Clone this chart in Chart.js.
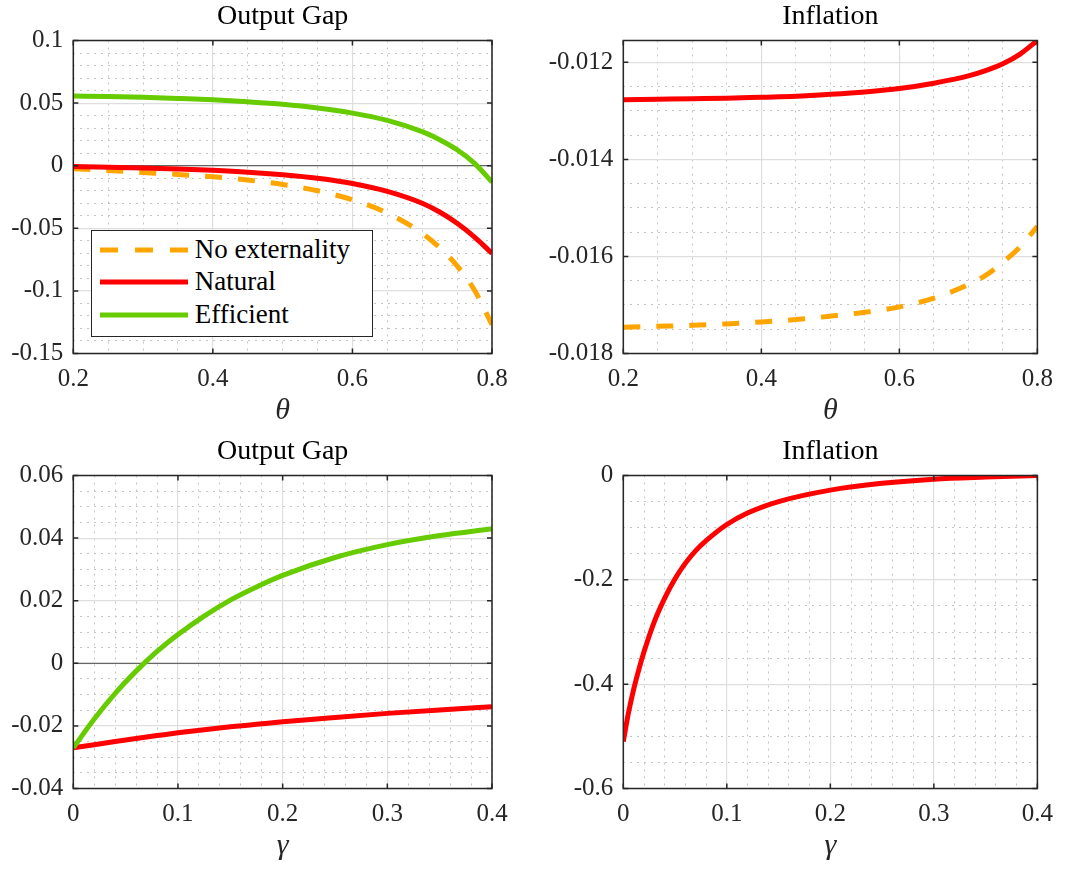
<!DOCTYPE html>
<html>
<head>
<meta charset="utf-8">
<script src="https://cdn.jsdelivr.net/npm/chart.js@4.4.1/dist/chart.umd.min.js"></script>
<style>
  body { margin: 0; background: #fff; }
  #fig { position: relative; width: 1066px; height: 869px; overflow: hidden; background: #fff; }
  #fig canvas { position: absolute; }
  .legend { position: absolute; box-sizing: border-box; background: #fff; border: 1.3px solid #262626;
            font-family: "Liberation Serif", "Times New Roman", serif; font-size: 27px; color: #000; }
  .legend svg { position: absolute; }
  .legend span { position: absolute; line-height: 32px; white-space: nowrap; }
</style>
</head>
<body>
<div id="fig">
  <canvas id="gapTheta"   width="533" height="434" style="left:0;top:0"></canvas>
  <canvas id="inflTheta"  width="533" height="434" style="left:533px;top:0"></canvas>
  <canvas id="gapGamma"   width="533" height="434" style="left:0;top:435px"></canvas>
  <canvas id="inflGamma"  width="533" height="434" style="left:533px;top:435px"></canvas>
</div>
<script>
// ---- values ----
const theta = [0.2, 0.25, 0.3, 0.35, 0.4, 0.45, 0.5, 0.55, 0.6, 0.65, 0.7, 0.725, 0.75, 0.775, 0.8];
const gapNoExt     = [-0.0025, -0.0038, -0.0054, -0.0070, -0.0089, -0.0115, -0.0150, -0.0200, -0.0272, -0.0378, -0.0540, -0.0655, -0.0800, -0.0995, -0.1270];
const gapNatural   = [-0.0007, -0.0012, -0.0018, -0.0026, -0.0037, -0.0052, -0.0073, -0.0101, -0.0142, -0.0205, -0.0300, -0.0370, -0.0460, -0.0570, -0.0700];
const gapEfficient = [0.0556, 0.0552, 0.0546, 0.0537, 0.0526, 0.0510, 0.0490, 0.0461, 0.0420, 0.0362, 0.0272, 0.0208, 0.0127, 0.0018, -0.0130];
const inflNoExt    = [-0.01746, -0.01744, -0.01742, -0.01739, -0.01735, -0.01730, -0.01723, -0.01715, -0.01704, -0.01686, -0.01658, -0.01639, -0.01612, -0.01580, -0.01538];
const inflNatural  = [-0.01277, -0.01276, -0.01275, -0.01274, -0.01272, -0.01270, -0.01266, -0.01261, -0.01254, -0.01243, -0.01228, -0.01217, -0.01203, -0.01183, -0.01155];

const gamma = [0, 0.02, 0.04, 0.06, 0.08, 0.1, 0.125, 0.15, 0.175, 0.2, 0.25, 0.3, 0.35, 0.4];
const gapNaturalG   = [-0.0270, -0.0260, -0.0250, -0.0240, -0.0231, -0.0222, -0.0212, -0.0203, -0.0195, -0.0187, -0.0173, -0.0160, -0.0149, -0.0139];
const gapEfficientG = [-0.0270, -0.0178, -0.0096, -0.0025, 0.0038, 0.0092, 0.0151, 0.0202, 0.0244, 0.0281, 0.0338, 0.0379, 0.0408, 0.0430];

const gammaFine = [0, 0.005, 0.01, 0.015, 0.02, 0.03, 0.04, 0.05, 0.06, 0.07, 0.08, 0.1, 0.12, 0.15, 0.2, 0.25, 0.3, 0.35, 0.4];
const inflNaturalG = [-0.510, -0.455, -0.410, -0.372, -0.338, -0.280, -0.235, -0.198, -0.168, -0.144, -0.125, -0.094, -0.072, -0.050, -0.028, -0.015, -0.007, -0.003, 0];

// tick labels
const thetaTicks = [0.2, 0.4, 0.6, 0.8];
const gammaTicks = [0, 0.1, 0.2, 0.3, 0.4];
const gapThetaTicks  = [-0.15, -0.1, -0.05, 0, 0.05, 0.1];
const inflThetaTicks = [-0.018, -0.016, -0.014, -0.012];
const gapGammaTicks  = [-0.04, -0.02, 0, 0.02, 0.04, 0.06];
const inflGammaTicks = [-0.6, -0.4, -0.2, 0];

// ---- styling ----
const FONT = '"Liberation Serif", "Times New Roman", serif';
const INK = '#262626';
const STYLE = {
  noExt:     { label: 'No externality', color: '#ffa500', dash: [17, 16] },
  natural:   { label: 'Natural',        color: '#ff0000', dash: [] },
  efficient: { label: 'Efficient',      color: '#66cc00', dash: [] }
};

function series(key, xs, ys, order) {
  const s = STYLE[key];
  return {
    label: s.label, legendKey: key,
    data: xs.map((x, i) => ({ x: x, y: ys[i] })),
    borderColor: s.color, borderDash: s.dash, borderWidth: 5,
    pointRadius: 0, cubicInterpolationMode: 'monotone', order: order
  };
}
function zeroLine(xs) {
  return {
    label: 'zero', data: [{ x: xs[0], y: 0 }, { x: xs[xs.length - 1], y: 0 }],
    borderColor: '#666666', borderWidth: 1.3, pointRadius: 0, order: 10
  };
}
function minorSteps(min, max, step) {
  const out = [];
  for (let v = min; v <= max + step * 1e-6; v += step) out.push({ value: v });
  return out;
}

// axes box + inward ticks, like the original plot frame
const framePlugin = {
  id: 'frame',
  afterDatasetsDraw(chart) {
    const { ctx, chartArea: a } = chart;
    const x = chart.scales.x, y = chart.scales.y;
    ctx.save();
    ctx.strokeStyle = INK;
    ctx.lineWidth = 1.5;
    ctx.strokeRect(a.left, a.top, a.right - a.left, a.bottom - a.top);
    ctx.beginPath();
    x.ticks.forEach(t => {
      const p = x.getPixelForValue(t.value);
      ctx.moveTo(p, a.bottom); ctx.lineTo(p, a.bottom - 5);
      ctx.moveTo(p, a.top); ctx.lineTo(p, a.top + 5);
    });
    y.ticks.forEach(t => {
      const p = y.getPixelForValue(t.value);
      ctx.moveTo(a.left, p); ctx.lineTo(a.left + 5, p);
      ctx.moveTo(a.right, p); ctx.lineTo(a.right - 5, p);
    });
    ctx.stroke();
    ctx.restore();
  }
};

function panel(id, o) {
  const tickFont = { family: FONT, size: 25, lineHeight: 1 };
  return new Chart(document.getElementById(id), {
    type: 'line',
    data: { datasets: o.datasets },
    options: {
      responsive: false, animation: false, devicePixelRatio: 1,
      layout: { padding: { left: 0, right: o.padRight, top: 0, bottom: 8 } },
      plugins: {
        legend: { display: false },
        tooltip: { enabled: false },
        title: {
          display: true, text: o.title, color: '#000', fullSize: false,
          font: { family: FONT, size: 28, weight: 'normal', lineHeight: 1 },
          padding: { top: 2.5, bottom: 10 }
        }
      },
      scales: {
        x: {
          type: 'linear', min: o.xMin, max: o.xMax,
          afterBuildTicks: s => { s.ticks = o.xTicks.map(v => ({ value: v })); },
          afterFit: s => { s.height = 72.5; },
          grid: { color: '#dedede', lineWidth: 1.2, drawTicks: false },
          border: { display: false },
          ticks: { autoSkip: false, maxRotation: 0, padding: 13, color: INK, font: tickFont, callback: v => String(v) },
          title: { display: true, text: o.xLabel, color: INK,
                   font: { family: FONT, size: 30, style: 'italic', lineHeight: 1 }, padding: { top: 0, bottom: 0 } }
        },
        y: {
          type: 'linear', min: o.yMin, max: o.yMax,
          afterBuildTicks: s => { s.ticks = o.yTicks.map(v => ({ value: v })); },
          afterFit: s => { s.width = o.yWidth; },
          grid: { color: '#dedede', lineWidth: 1.2, drawTicks: false },
          border: { display: false },
          ticks: { autoSkip: false, padding: 10, color: INK, font: tickFont, callback: v => String(v) }
        },
        xm: {
          type: 'linear', position: 'bottom', min: o.xMin, max: o.xMax,
          afterBuildTicks: s => { s.ticks = minorSteps(o.xMin, o.xMax, o.xMinor); },
          afterFit: s => { s.height = 0; },
          grid: { color: '#c4c4c4', lineWidth: 1, drawTicks: false, z: -2 },
          border: { display: false, dash: [2, 5] },
          ticks: { display: false }
        },
        ym: {
          type: 'linear', position: 'left', min: o.yMin, max: o.yMax,
          afterBuildTicks: s => { s.ticks = minorSteps(o.yMin, o.yMax, o.yMinor); },
          afterFit: s => { s.width = 0; },
          grid: { color: '#c4c4c4', lineWidth: 1, drawTicks: false, z: -2 },
          border: { display: false, dash: [2, 5] },
          ticks: { display: false }
        }
      }
    },
    plugins: [framePlugin]
  });
}

const chartGapTheta = panel('gapTheta', {
  title: 'Output Gap', xLabel: 'θ', padRight: 41, yWidth: 73.3,
  xMin: 0.2, xMax: 0.8, xTicks: thetaTicks, xMinor: 0.05,
  yMin: -0.15, yMax: 0.1, yTicks: gapThetaTicks, yMinor: 0.01,
  datasets: [
    series('efficient', theta, gapEfficient, 1),
    series('natural', theta, gapNatural, 2),
    series('noExt', theta, gapNoExt, 3),
    zeroLine(theta)
  ]
});

panel('inflTheta', {
  title: 'Inflation', xLabel: 'θ', padRight: 20, yWidth: 90.3,
  xMin: 0.2, xMax: 0.8, xTicks: thetaTicks, xMinor: 0.05,
  yMin: -0.018, yMax: -0.01155, yTicks: inflThetaTicks, yMinor: 0.0005,
  datasets: [
    series('natural', theta, inflNatural, 2),
    series('noExt', theta, inflNoExt, 3)
  ]
});

panel('gapGamma', {
  title: 'Output Gap', xLabel: 'γ', padRight: 41, yWidth: 73.3,
  xMin: 0, xMax: 0.4, xTicks: gammaTicks, xMinor: 0.02,
  yMin: -0.04, yMax: 0.06, yTicks: gapGammaTicks, yMinor: 0.005,
  datasets: [
    series('efficient', gamma, gapEfficientG, 1),
    series('natural', gamma, gapNaturalG, 2),
    zeroLine(gamma)
  ]
});

panel('inflGamma', {
  title: 'Inflation', xLabel: 'γ', padRight: 20, yWidth: 90.3,
  xMin: 0, xMax: 0.4, xTicks: gammaTicks, xMinor: 0.02,
  yMin: -0.6, yMax: 0, yTicks: inflGammaTicks, yMinor: 0.05,
  datasets: [
    series('natural', gammaFine, inflNaturalG, 2)
  ]
});

// legend box sits inside the first panel, lower left
(function buildLegend() {
  const box = document.createElement('div');
  box.className = 'legend';
  Object.assign(box.style, { left: '90.7px', top: '230px', width: '282px', height: '107px' });
  const rowCentres = [20.7, 52.3, 85.5];
  const items = ['noExt', 'natural', 'efficient'];
  items.forEach((key, i) => {
    const ds = chartGapTheta.data.datasets.find(d => d.legendKey === key);
    const svg = document.createElementNS('http://www.w3.org/2000/svg', 'svg');
    svg.setAttribute('width', '88'); svg.setAttribute('height', '10');
    svg.style.left = '8.3px'; svg.style.top = (rowCentres[i] - 5 - 1.3) + 'px';
    const ln = document.createElementNS('http://www.w3.org/2000/svg', 'line');
    ln.setAttribute('x1', '0'); ln.setAttribute('x2', '88');
    ln.setAttribute('y1', '5'); ln.setAttribute('y2', '5');
    ln.setAttribute('stroke', ds.borderColor);
    ln.setAttribute('stroke-width', '5');
    if (ds.borderDash.length) ln.setAttribute('stroke-dasharray', '18 17');
    svg.appendChild(ln);
    box.appendChild(svg);
    const txt = document.createElement('span');
    txt.textContent = ds.label;
    txt.style.left = '103px';
    txt.style.top = (rowCentres[i] - 18.3) + 'px';
    box.appendChild(txt);
  });
  document.getElementById('fig').appendChild(box);
})();
</script>
</body>
</html>
